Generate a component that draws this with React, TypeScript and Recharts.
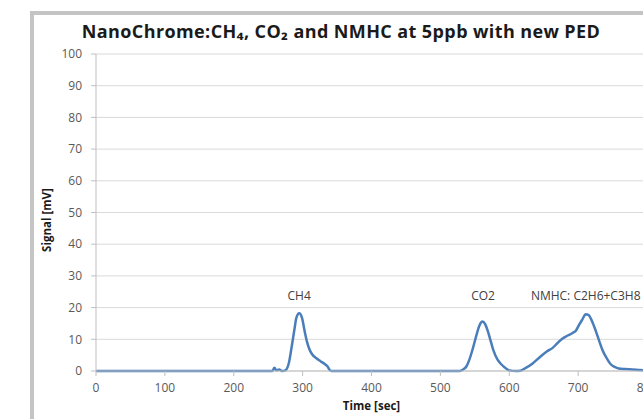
import { LineChart, Line, XAxis, YAxis, CartesianGrid, ReferenceDot, Label } from "recharts";

const times = [
  0, 100, 200, 250, 256, 259, 262, 266, 270, 275, 280, 284, 288, 291, 295, 299, 303, 306, 310, 314, 320, 326,
  332, 336, 339, 342, 450, 528, 533, 538, 542, 547, 552, 557, 561, 565, 569, 573, 577, 583, 588, 593, 600,
  610, 616, 624, 634, 645, 655, 663, 670, 677, 685, 692, 697, 701, 706, 711, 715, 719, 723, 727, 731, 735,
  741, 747, 753, 759, 768, 779, 790, 800,
];
const signal = [
  0, 0, 0, 0, 0, 1.0, 0.2, 0.5, 0, 0.2, 2.5, 7.5, 13, 16.8, 18.2, 16.8, 12.5, 9.5, 6.8, 5.2, 4.0, 3.1,
  2.2, 1.5, 0.4, 0, 0, 0, 0.5, 1.5, 3.5, 7, 11, 14.5, 15.6, 14.8, 12.5, 9.5, 6.5, 3.6, 2.2, 1.2, 0.2,
  0, 0.1, 1.0, 2.4, 4.5, 6.2, 7.3, 8.8, 10.2, 11.2, 12.0, 12.8, 14.4, 16.2, 17.9, 17.7, 16.3, 14.2, 11.8, 9.2, 6.8,
  4.2, 2.2, 1.3, 0.8, 0.6, 0.5, 0.3, 0.2,
];
const xTicks = [0, 100, 200, 300, 400, 500, 600, 700, 800];
const yTicks = [0, 10, 20, 30, 40, 50, 60, 70, 80, 90, 100];
const peakNames = ["CH4", "CO2", "NMHC: C2H6+C3H8"];
const peakTimes = [295, 562, 711];
const labelLevel = 23.7;

const data = times.map((t, i) => ({ t, v: signal[i] }));

const font = "'Open Sans', 'DejaVu Sans', sans-serif";
const tickStyle = { fontSize: 12, fill: "#595959", fontFamily: font };

export default function App() {
  return (
    <div style={{ position: "fixed", left: 0, top: 0, width: 643, height: 419, overflow: "hidden", background: "#fff" }}>
      <div
        style={{
          position: "absolute",
          left: 30,
          top: 11,
          width: 700,
          height: 500,
          border: "4px solid #c4c4c4",
          boxSizing: "border-box",
        }}
      />
      <div
        style={{
          position: "absolute",
          left: 30,
          top: 19,
          width: 622,
          textAlign: "center",
          fontFamily: font,
          fontWeight: 700,
          fontSize: 18,
          letterSpacing: 0.4,
          color: "#1a1a1a",
          whiteSpace: "nowrap",
        }}
      >
        NanoChrome:CH₄, CO₂ and NMHC at 5ppb with new PED
      </div>
      <div style={{ position: "absolute", left: 0, top: 0 }}>
        <LineChart width={660} height={419} data={data} margin={{ top: 54, right: 13, bottom: 18, left: 36 }}>
          <CartesianGrid vertical={false} stroke="#d9d9d9" />
          <XAxis
            dataKey="t"
            type="number"
            domain={[0, 800]}
            ticks={xTicks}
            height={30}
            tick={tickStyle}
            tickSize={5}
            tickMargin={7}
            stroke="#bfbfbf"
          >
            <Label
              value="Time [sec]"
              position="bottom"
              offset={1}
              style={{ fontSize: 11.5, fontWeight: 700, fill: "#1a1a1a", fontFamily: font }}
            />
          </XAxis>
          <YAxis
            type="number"
            domain={[0, 100]}
            ticks={yTicks}
            width={60}
            tick={tickStyle}
            tickSize={5}
            tickMargin={9}
            stroke="#bfbfbf"
          >
            <Label
              content={() => (
                <text
                  x={51}
                  y={220}
                  transform="rotate(-90 51 220)"
                  textAnchor="middle"
                  style={{ fontSize: 11.5, fontWeight: 700, fill: "#1a1a1a", fontFamily: font }}
                >
                  Signal [mV]
                </text>
              )}
            />
          </YAxis>
          {peakNames.map((name, i) => (
            <ReferenceDot
              key={name}
              x={peakTimes[i]}
              y={labelLevel}
              r={0}
              fill="none"
              stroke="none"
              label={{ value: name, position: "center", style: { ...tickStyle, fontSize: 12, fill: "#404040" } }}
            />
          ))}
          <Line
            type="monotone"
            dataKey="v"
            stroke="#4a7ebb"
            strokeWidth={2.5}
            dot={false}
            isAnimationActive={false}
          />
        </LineChart>
      </div>
    </div>
  );
}
